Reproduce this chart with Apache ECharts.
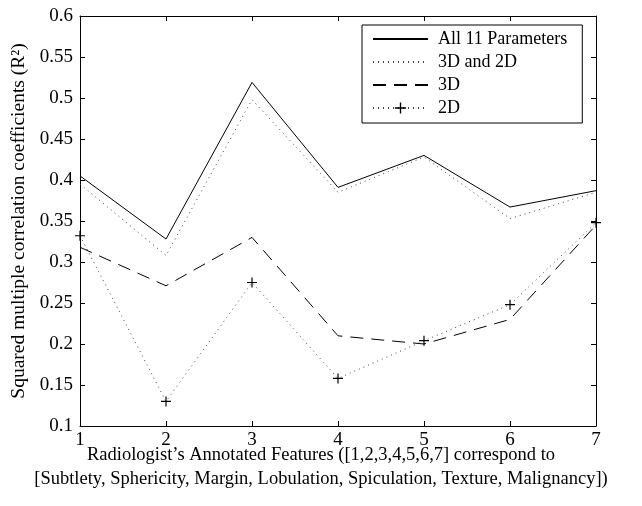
<!DOCTYPE html>
<html>
<head>
<meta charset="utf-8">
<script src="https://cdn.jsdelivr.net/npm/echarts@6/dist/echarts.min.js"></script>
<style>
  html, body { margin: 0; padding: 0; background: #fff; }
  #chart { width: 642px; height: 506px; }
</style>
</head>
<body>
<div id="chart"></div>
<script>
// data
var features = [1, 2, 3, 4, 5, 6, 7];
var all11 = [0.405, 0.328, 0.519, 0.391, 0.430, 0.367, 0.387];
var both3d2d = [0.395, 0.308, 0.498, 0.385, 0.428, 0.353, 0.385];
var only3d = [0.318, 0.271, 0.330, 0.210, 0.200, 0.230, 0.345];
var only2d = [0.332, 0.130, 0.275, 0.158, 0.204, 0.248, 0.348];
var seriesNames = ['All 11 Parameters', '3D and 2D', '3D', '2D'];

var FONT = '"Liberation Serif", "DejaVu Serif", serif';
var plus = 'path://M4.4,0h1.2v4.4h4.4v1.2h-4.4v4.4h-1.2v-4.4h-4.4v-1.2h4.4z';

function pairs(arr) {
    return features.map(function (f, i) { return [f, arr[i]]; });
}

var myChart = echarts.init(document.getElementById('chart'));

// box with inward ticks on every side
function xAx(pos, showLabel) {
    return {
        type: 'value', position: pos, min: 1, max: 7, interval: 1,
        axisLine: { show: true, onZero: false, lineStyle: { color: '#000', width: 1 } },
        axisTick: { show: true, inside: true, length: 5, lineStyle: { color: '#000' } },
        axisLabel: { show: showLabel, color: '#000', fontFamily: FONT, fontSize: 19, margin: 5 },
        splitLine: { show: false }
    };
}
function yAx(pos, showLabel) {
    return {
        type: 'value', position: pos, min: 0.1, max: 0.6, interval: 0.05,
        axisLine: { show: true, onZero: false, lineStyle: { color: '#000', width: 1 } },
        axisTick: { show: true, inside: true, length: 5, lineStyle: { color: '#000' } },
        axisLabel: {
            show: showLabel, color: '#000', fontFamily: FONT, fontSize: 19, margin: 7,
            formatter: function (v) { return String(+v.toFixed(2)); }
        },
        splitLine: { show: false }
    };
}

var yLeft = yAx('left', true);
yLeft.name = 'Squared multiple correlation coefficients (R\u00B2)';
yLeft.nameLocation = 'middle';
yLeft.nameGap = 46;
yLeft.nameTextStyle = { color: '#000', fontFamily: FONT, fontSize: 19.5 };

var hideDot = { opacity: 0 };

var option = {
    animation: false,
    backgroundColor: '#fff',
    grid: { left: 80, right: 46, top: 16, bottom: 80 },
    xAxis: [xAx('bottom', true), xAx('top', false)],
    yAxis: [yLeft, yAx('right', false)],
    legend: {
        left: 362, top: 25,
        orient: 'vertical',
        data: [
            { name: seriesNames[0], itemStyle: hideDot },
            { name: seriesNames[1], itemStyle: hideDot },
            { name: seriesNames[2], itemStyle: hideDot },
            { name: seriesNames[3] }
        ],
        backgroundColor: '#fff',
        borderColor: '#000', borderWidth: 1, borderRadius: 0,
        padding: [5, 15, 6, 10],
        itemWidth: 55, itemHeight: 14, itemGap: 5,
        textStyle: { color: '#000', fontFamily: FONT, fontSize: 18, lineHeight: 18, padding: [0, 0, 0, 5] }
    },
    graphic: [
        {
            type: 'text', left: 'center', top: 443,
            style: {
                text: 'Radiologist\u2019s Annotated Features ([1,2,3,4,5,6,7] correspond to\n[Subtlety, Sphericity, Margin, Lobulation, Spiculation, Texture, Malignancy])',
                fill: '#000', font: '18.5px ' + FONT, textAlign: 'center', lineHeight: 24
            }
        }
    ],
    series: [
        {
            name: seriesNames[0], type: 'line', data: pairs(all11),
            symbol: 'none', color: '#000',
            lineStyle: { color: '#000', width: 1, type: 'solid' }
        },
        {
            name: seriesNames[1], type: 'line', data: pairs(both3d2d),
            symbol: 'none', color: '#000',
            lineStyle: { color: '#444', width: 1, type: [1, 4] }
        },
        {
            name: seriesNames[2], type: 'line', data: pairs(only3d),
            symbol: 'none', color: '#000',
            lineStyle: { color: '#000', width: 1, type: [13, 8] }
        },
        {
            name: seriesNames[3], type: 'line', data: pairs(only2d),
            symbol: plus, symbolSize: 10, color: '#000',
            itemStyle: { color: '#000' },
            lineStyle: { color: '#444', width: 1, type: [1, 4] }
        }
    ]
};

myChart.setOption(option);
</script>
</body>
</html>
